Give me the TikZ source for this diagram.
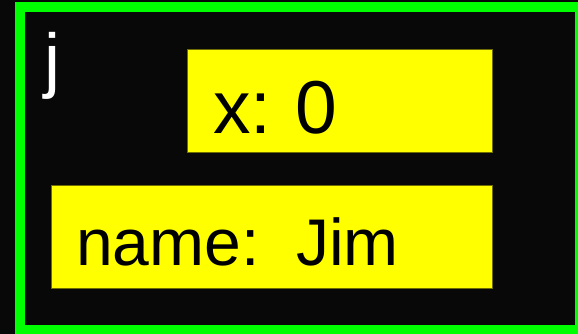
\documentclass[tikz,border=0pt]{standalone}
\usepackage{fontspec}
\setmainfont{Liberation Sans}
\usepackage{xcolor}
\usepackage{tikz}
\usetikzlibrary{positioning}

\definecolor{framegreen}{RGB}{0,255,0}
\definecolor{fieldyellow}{RGB}{255,255,0}
\definecolor{fieldedge}{RGB}{110,110,0}

\tikzset{
  fieldbox/.style={draw=fieldedge, line width=1pt, fill=fieldyellow, inner sep=0pt, anchor=north west},
  fieldtext/.style={inner sep=0pt, anchor=base west, text=black}
}

\begin{document}
\begin{tikzpicture}[x=1pt,y=-1pt]

% Fundo
\fill[black!97] (0,0) rectangle (578,334);
\useasboundingbox (0,0) rectangle (578,334);

% Moldura do objeto (verde)
\begin{scope}
\clip (0,0) rectangle (578,334);
\draw[framegreen, line width=10.5pt] (19.8,7.2) rectangle (580,330);
\end{scope}

% Nome do objeto
\node[inner sep=0pt, anchor=base west, text=white, font=\fontsize{72}{75}\selectfont] (objname) at (44,85) {j};

% Campo x
\node[fieldbox, minimum width=305pt, minimum height=103pt] (xbox) at (187,49) {};
\node[fieldtext, font=\fontsize{75}{78}\selectfont] (xtext) at ([shift={(26,84)}]xbox.north west) {x:\hspace{0.32em}0};

% Campo name
\node[fieldbox, minimum width=441pt, minimum height=103pt] (namebox) at (51,185) {};
\node[fieldtext, font=\fontsize{66}{69}\selectfont] (nametext) at ([shift={(25,80)}]namebox.north west) {name:\ \ Jim};

\end{tikzpicture}
\end{document}
